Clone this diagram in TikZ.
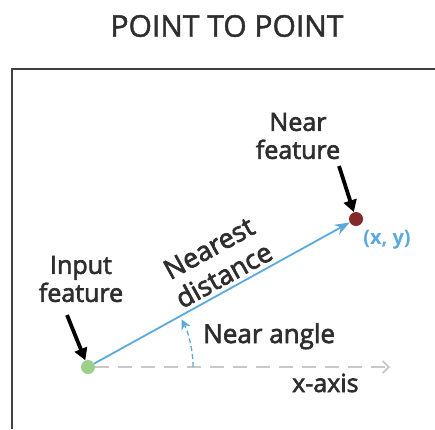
\documentclass[tikz,border=0pt]{standalone}
\usepackage{fontspec}
\setmainfont{Open Sans}
\newfontface\lblface{Open Sans}[FakeBold=2.5]
\newfontface\titleface{Open Sans}[FakeBold=1.5]
\usetikzlibrary{arrows.meta}
\definecolor{lblue}{HTML}{5AAADE}
\definecolor{dotgreen}{HTML}{9CCF8A}
\definecolor{dotred}{HTML}{852A2A}
\definecolor{axisgray}{HTML}{C8C8C8}
\definecolor{txt}{HTML}{2E2E2E}
\definecolor{framegray}{HTML}{404040}
\begin{document}
\begin{tikzpicture}[x=1pt,y=-1pt,
  lbl/.style={text=txt,font=\lblface\fontsize{25}{28}\selectfont,align=center,inner sep=0pt},
  dot/.style={circle,inner sep=0pt,minimum size=14pt},
  blackarrow/.style={line width=3.8pt,black,-{Triangle[length=12pt,width=13pt]}},
  distline/.style={lblue,line width=1.8pt,-{Stealth[length=15pt,width=11pt]}},
  axisline/.style={axisgray,line width=1.8pt,dash pattern=on 14pt off 9pt,-{Straight Barb[length=6pt,width=12pt]}},
  anglearc/.style={lblue,line width=1.3pt,dash pattern=on 5pt off 3pt,-{Stealth[length=10pt,width=10pt]}}]
\useasboundingbox (0,0) rectangle (435,429);
\node[text=txt,font=\titleface\fontsize{30}{32}\selectfont,inner sep=0pt] (title) at (227,26) {POINT TO POINT};
\draw[framegray,line width=2pt] (12,429) -- (12,69) -- (435,69);
\node[dot,fill=dotgreen] (in) at (88,367) {};
\node[dot,fill=dotred] (near) at (356,219) {};
\coordinate (axisend) at (390,367);
\draw[axisline] (in) -- (axisend);
\draw[distline] (in) -- node[pos=0.535,sloped,above=4pt,lbl,font=\lblface\fontsize{27}{31}\selectfont] (dist) {Nearest\\distance} (near);
\draw[anglearc] (193,367) arc[start angle=0,end angle=27,radius=105pt];
\node[lbl] (nearlbl) at (298,136) {Near\\feature};
\node[lbl] (inlbl) at (81,279) {Input\\feature};
\coordinate (nfa) at (339,166);
\coordinate (ina) at (67,315);
\draw[blackarrow] (nfa) -- (near);
\draw[blackarrow] (ina) -- (in);
\node[text=lblue,font=\bfseries\fontsize{20}{22}\selectfont,inner sep=0pt] (xy) at (387,240) {(x, y)};
\node[lbl,anchor=base west,font=\lblface\fontsize{26}{28}\selectfont] (angle) at (203,343) {Near angle};
\node[lbl,anchor=base west] (xaxis) at (292,392) {x-axis};
\end{tikzpicture}
\end{document}
